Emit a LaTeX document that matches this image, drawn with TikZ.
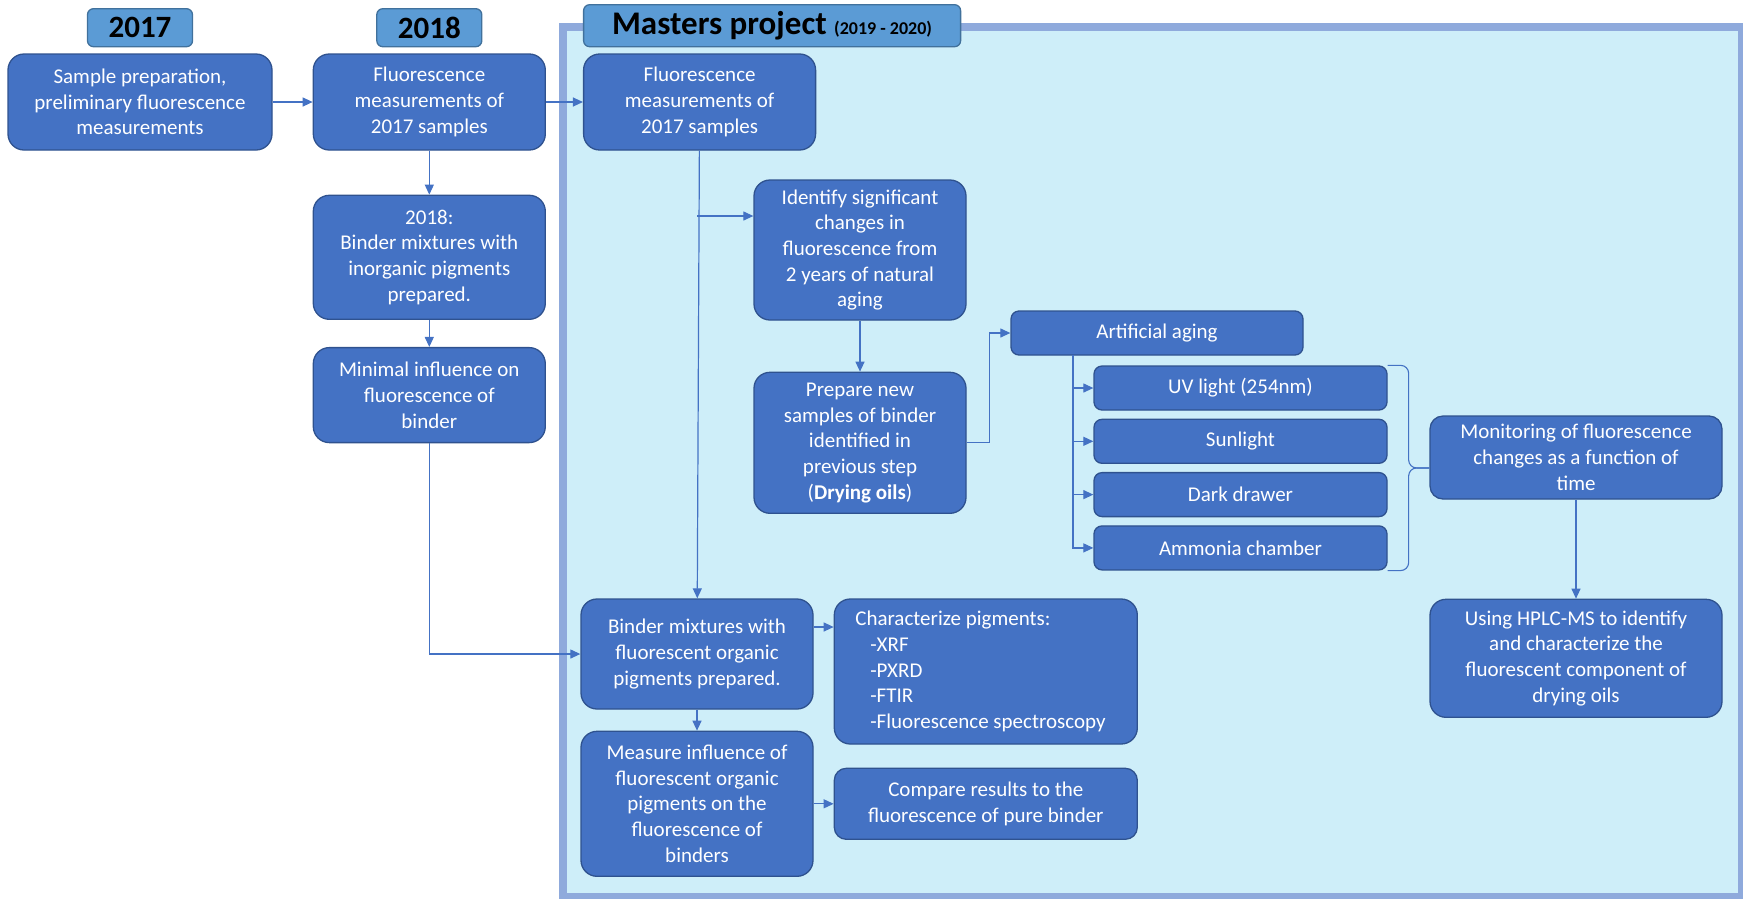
\documentclass[tikz,border=0pt]{standalone}
\usepackage{fontspec}
\setmainfont{Carlito}
\usetikzlibrary{arrows.meta,positioning,calc}

\definecolor{boxblue}{HTML}{4472C4}
\definecolor{boxline}{HTML}{2F528F}
\definecolor{yearblue}{HTML}{5B9BD5}
\definecolor{yearline}{HTML}{41719C}
\definecolor{projfill}{HTML}{CEEEF9}
\definecolor{projline}{HTML}{8FAADC}

\newcommand{\stagefont}{\fontsize{21pt}{25.7pt}\selectfont}

\tikzset{
	stage/.style={draw=boxline, fill=boxblue, line width=1.3pt, rounded corners=16pt,
		text=white, align=center, inner sep=0pt, font=\stagefont},
	stagesm/.style={stage, rounded corners=8pt},
	year/.style={draw=yearline, fill=yearblue, line width=1.3pt, rounded corners=6pt,
		inner sep=0pt, text=black, font=\fontsize{31pt}{36pt}\selectfont\bfseries},
	conn/.style={draw=boxblue, line width=1.2pt, -{Triangle[length=10pt,width=9pt]}},
	curly/.style={draw=boxblue, line width=1.1pt, rounded corners=8pt},
}

\begin{document}
\begin{tikzpicture}[x=1pt, y=-1pt]
	\useasboundingbox (0,0) rectangle (1743,898);
	% Masters project frame
	\draw [projline, fill=projfill, line width=8pt] (563,27) rectangle (1742,897);

	% Nodes {2017, 2018}
	\node [stage, minimum width=264pt, minimum height=96pt] (sample) at (140,102) {Sample preparation,\\preliminary fluorescence\\measurements};
	\node [stage, minimum width=232pt, minimum height=96pt] (fl18) [right=40pt of sample] {Fluorescence\\measurements of\\2017 samples};
	\node [stage, minimum width=232pt, minimum height=124pt] (bind18) [below=44pt of fl18] {2018:\\Binder mixtures with\\inorganic pigments\\prepared.};
	\node [stage, minimum width=232pt, minimum height=95pt] (minimal) [below=27pt of bind18] {Minimal influence on\\fluorescence of\\binder};

	% Nodes {masters project}
	\node [stage, minimum width=232pt, minimum height=96pt] (flM) [right=37pt of fl18] {Fluorescence\\measurements of\\2017 samples};
	\node [stage, minimum width=212pt, minimum height=140pt] (ident) at (860,250) {Identify significant\\changes in\\fluorescence from\\2 years of natural\\aging};
	\node [stage, minimum width=212pt, minimum height=141pt] (prep) [below=51pt of ident] {Prepare new\\samples of binder\\identified in\\previous step\\(\textbf{Drying oils})};
	\node [stagesm, minimum width=292pt, minimum height=44pt] (artif) at (1157,333) {Artificial aging};
	\node [stagesm, minimum width=293pt, minimum height=44pt] (uv) at (1240.5,388) {UV light (254nm)};
	\node [stagesm, minimum width=293pt, minimum height=44pt] (sun) [below=8pt of uv] {Sunlight};
	\node [stagesm, minimum width=293pt, minimum height=44pt] (dark) [below=8pt of sun] {Dark drawer};
	\node [stagesm, minimum width=293pt, minimum height=44pt] (amm) [below=8pt of dark] {Ammonia chamber};
	\node [stage, rounded corners=13pt, minimum width=292pt, minimum height=83pt] (monit) at (1576,457.5) {Monitoring of fluorescence\\changes as a function of\\time};
	\node [stage, minimum width=292pt, minimum height=118pt] (hplc) [below=99pt of monit] {Using HPLC-MS to identify\\and characterize the\\fluorescent component of\\drying oils};
	\node [stage, minimum width=232pt, minimum height=110pt] (bmix) at (697,654) {Binder mixtures with\\fluorescent organic\\pigments prepared.};
	\node [stage, minimum width=232pt, minimum height=145pt] (meas) [below=21pt of bmix] {Measure influence of\\fluorescent organic\\pigments on the\\fluorescence of\\binders};
	\node [stage, align=flush left, text width=261pt, inner xsep=21pt, minimum height=145pt] (charac) [below right=0pt and 20pt of bmix.north east] {Characterize pigments:\\\hspace*{15pt}-XRF\\\hspace*{15pt}-PXRD\\\hspace*{15pt}-FTIR\\\hspace*{15pt}-Fluorescence spectroscopy};
	\node [stage, rounded corners=12pt, minimum width=303pt, minimum height=71pt] (comp) [right=20pt of meas] {Compare results to the\\fluorescence of pure binder};

	% Year labels
	\node [year, minimum width=105pt, minimum height=38pt] (y17) [above=6pt of sample] {2017};
	\node [year, minimum width=105pt, minimum height=38pt] (y18) [above=6pt of fl18] {2018};
	\node [year, minimum width=377pt, minimum height=42pt, font=\fontsize{33pt}{38pt}\selectfont\bfseries] (yM) [above right=6pt and 0pt of flM.north west] {Masters project {\fontsize{18pt}{20pt}\selectfont(2019 - 2020)}};

	% Paths
	\coordinate (fork) at (697,216);
	\coordinate (trunk) at (1073,355);
	\coordinate (bmid) at ($(uv.north east)!.5!(amm.south east)$);

	\draw [conn] (sample) -- (fl18);
	\draw [conn] (fl18) -- (flM);
	\draw [conn] (fl18) -- (bind18);
	\draw [conn] (bind18) -- (minimal);
	\draw [conn] (minimal) |- (bmix);
	\draw [conn] (flM) -- (bmix);
	\draw [conn] (fork) -- (fork -| ident.west);
	\draw [conn] (ident) -- (prep);
	\draw [conn] (prep.east) -- ++(23,0) |- (artif.west);
	\foreach \n in {uv,sun,dark,amm}
		\draw [conn] (trunk) |- (\n.west);
	\draw [curly] (uv.north east) -- ++(21,0) |- (bmid -| monit.west);
	\draw [curly] (amm.south east) -- ++(21,0) |- (bmid -| monit.west);
	\draw [conn] (monit) -- (hplc);
	\draw [conn] ([yshift=27pt]bmix.east) -- ([yshift=27pt]bmix.east -| charac.west);
	\draw [conn] (bmix) -- (meas);
	\draw [conn] (meas) -- (comp);
\end{tikzpicture}
\end{document}
